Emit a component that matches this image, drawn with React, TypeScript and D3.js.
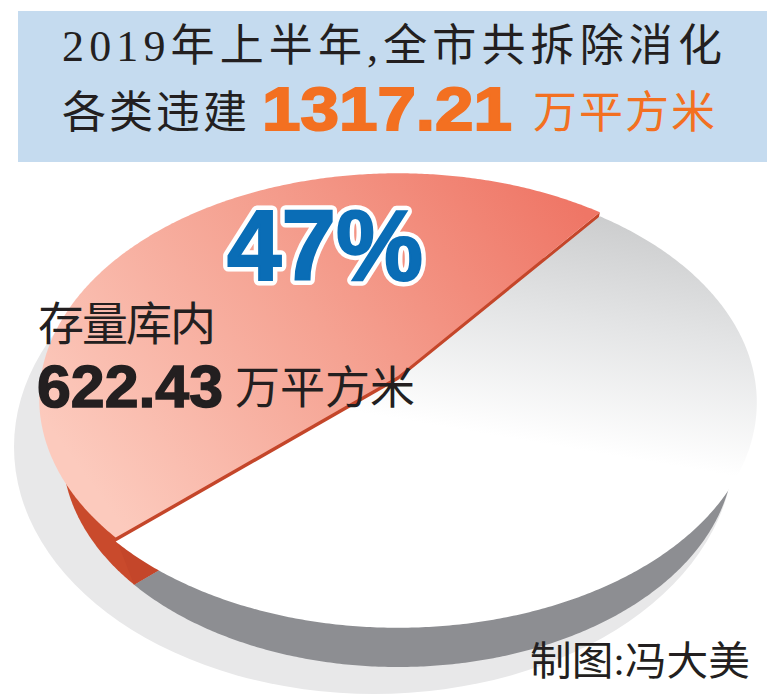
import React from 'react';
import * as d3 from 'd3';

// ---- data ----
const sliceNames = ['存量库内', '其余'];
const sliceValues = [622.43, 694.78];
const sliceTop = ['url(#redGrad)', 'url(#greyGrad)'];
const sliceSide = ['#c94a2c', '#8d8e92'];
const titleLine1 = '2019年上半年,全市共拆除消化';
const titleLine2Prefix = '各类违建';
const totalValue = '1317.21';
const unitText = '万平方米';
const percentText = '47%';
const storedLabel = '存量库内';
const storedValue = '622.43';
const creditText = '制图:冯大美';

const SERIF = '"Liberation Serif","Noto Sans CJK SC",serif';
const SANS = '"Liberation Sans",Arial,"Noto Sans CJK SC",sans-serif';

type Pt = [number, number];

export default function App() {
  const cx = 398, cy = 380, kx = 357, ky = 223, persp = 0.1;
  const V: Pt = [398, 1500];
  const sx = 0.065, sy = 0.045;
  const lift = 4;
  const deg = Math.PI / 180;
  const start = -132.5 * deg;

  const arcs = d3
    .pie<number>()
    .sort(null)
    .startAngle(start)
    .endAngle(start + 2 * Math.PI)(sliceValues);

  const xs = d3.scaleLinear().domain([-1, 1]).range([cx - kx, cx + kx]);
  const ys = d3.scaleLinear().domain([-1, 1]).range([cy + ky, cy - ky]);

  const top = (a: number, dy = 0): Pt => {
    const X = Math.sin(a), Z = Math.cos(a);
    const w = 1 + persp * Z;
    return [xs(X / w), ys(Z / w) + dy];
  };
  const centerTop = (dy = 0): Pt => [xs(0), ys(0) + dy];
  const bot = (p: Pt): Pt => [p[0] + (V[0] - p[0]) * sx, p[1] + (V[1] - p[1]) * sy];

  const line = d3.line<Pt>();
  const rimPts = (a0: number, a1: number, f: (a: number) => Pt) => {
    const n = Math.max(2, Math.ceil((a1 - a0) / (0.5 * deg)));
    const pts: Pt[] = [];
    for (let i = 0; i <= n; i++) pts.push(f(a0 + ((a1 - a0) * i) / n));
    return pts;
  };

  const sliceTopPath = (a0: number, a1: number, dy: number) =>
    line([centerTop(dy), ...rimPts(a0, a1, (a) => top(a, dy))])! + 'Z';
  const sliceBotPath = (a0: number, a1: number) =>
    line([bot(centerTop()), ...rimPts(a0, a1, (a) => bot(top(a)))])! + 'Z';

  const red = arcs[0];
  const cutFaces = [red.startAngle, red.endAngle].map((a) =>
    line([centerTop(-lift), top(a, -lift), bot(top(a)), bot(centerTop())])! + 'Z'
  );

  return (
    <svg
      width={782}
      height={698}
      style={{ position: 'absolute', left: 0, top: 0, background: '#ffffff' }}
    >
      <defs>
        <linearGradient id="redGrad" gradientUnits="userSpaceOnUse" x1={560} y1={180} x2={110} y2={510}>
          <stop offset="0" stopColor="#ef7666" />
          <stop offset="0.5" stopColor="#f5a292" />
          <stop offset="1" stopColor="#fccabd" />
        </linearGradient>
        <linearGradient id="greyGrad" gradientUnits="userSpaceOnUse" x1={620} y1={215} x2={580} y2={450}>
          <stop offset="0" stopColor="#cbcccd" />
          <stop offset="0.45" stopColor="#e3e4e5" />
          <stop offset="1" stopColor="#ffffff" />
        </linearGradient>
      </defs>

      {/* header band */}
      <rect x={18} y={11} width={749} height={151} fill="#c5dbef" />
      <text x={62} y={61} fontFamily={SERIF} fontSize={44} fill="#231f20" textLength={660} lengthAdjust="spacing">
        {titleLine1}
      </text>
      <text x={62} y={128} fontFamily={SERIF} fontSize={44} fill="#231f20" textLength={185} lengthAdjust="spacing">
        {titleLine2Prefix}
      </text>
      <text
        x={262}
        y={130}
        fontFamily={SANS}
        fontWeight={700}
        fontSize={62}
        fill="#f37021"
        stroke="#f37021"
        strokeWidth={2}
        textLength={250}
        lengthAdjust="spacingAndGlyphs"
      >
        {totalValue}
      </text>
      <text x={533} y={128} fontFamily={SERIF} fontSize={44} fill="#f37021" textLength={182} lengthAdjust="spacing">
        {unitText}
      </text>

      {/* shadow */}
      <ellipse cx={374} cy={447} rx={360} ry={247} fill="#e8e8e9" />

      {/* sides (bottom faces) */}
      {arcs.map((d, i) => (
        <path key={'b' + i} d={sliceBotPath(d.startAngle, d.endAngle)} fill={sliceSide[i]} />
      ))}
      {/* cut faces of the raised slice */}
      {cutFaces.map((d, i) => (
        <path key={'c' + i} d={d} fill="#c4462a" />
      ))}
      {/* top faces: white slice first, then the raised red slice */}
      <path d={sliceTopPath(arcs[1].startAngle, arcs[1].endAngle, 0)} fill={sliceTop[1]} />
      <path d={sliceTopPath(red.startAngle, red.endAngle, -lift)} fill={sliceTop[0]} />

      {/* labels */}
      <text
        x={227}
        y={280}
        fontFamily={SANS}
        fontWeight={700}
        fontSize={100}
        fill="#0a6db6"
        stroke="#ffffff"
        strokeWidth={11}
        strokeLinejoin="round"
        paintOrder="stroke"
        textLength={196}
        lengthAdjust="spacingAndGlyphs"
      >
        {percentText}
      </text>
      <text x={227} y={280} fontFamily={SANS} fontWeight={700} fontSize={100} fill="#0a6db6" stroke="#0a6db6" strokeWidth={2} textLength={196} lengthAdjust="spacingAndGlyphs">
        {percentText}
      </text>
      <text x={38} y={340} fontFamily={SERIF} fontSize={46} fill="#231f20" textLength={178} lengthAdjust="spacing">
        {storedLabel}
      </text>
      <text x={37} y={407} fontFamily={SANS} fontWeight={700} fontSize={60} fill="#231f20" stroke="#231f20" strokeWidth={1.5} textLength={186} lengthAdjust="spacingAndGlyphs">
        {storedValue}
      </text>
      <text x={235} y={404} fontFamily={SERIF} fontSize={45} fill="#231f20" textLength={180} lengthAdjust="spacing">
        {unitText}
      </text>
      <text x={530} y={675} fontFamily={SERIF} fontSize={40} fill="#231f20" textLength={220} lengthAdjust="spacingAndGlyphs">
        {creditText}
      </text>
      <title>{sliceNames.join(' / ')}</title>
    </svg>
  );
}
